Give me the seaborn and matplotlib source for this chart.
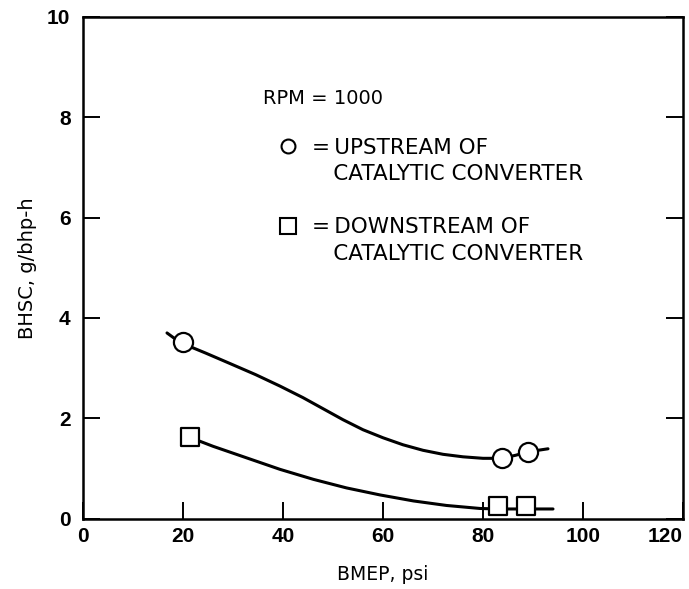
import numpy as np
import pandas as pd
import seaborn as sns
import matplotlib.pyplot as plt
from matplotlib.lines import Line2D

# measured points
up_x = [20, 83.7, 89]
up_y = [3.52, 1.2, 1.33]
down_x = [21.3, 83.0, 88.5]
down_y = [1.62, 0.25, 0.25]

# hand-drawn fair curves
up_curve_x = [16.8, 19.4, 24.5, 29.4, 34.5, 39.4, 44, 48, 52, 56, 60, 64, 68, 72, 76, 80, 83.7, 86.5, 89, 93]
up_curve_y = [3.70, 3.51, 3.30, 3.09, 2.87, 2.64, 2.41, 2.19, 1.97, 1.77, 1.61, 1.47, 1.36, 1.28, 1.23, 1.20, 1.20, 1.26, 1.33, 1.39]
down_curve_x = [21.3, 26, 32.7, 39.4, 46.1, 52.7, 59.4, 66.1, 72.7, 79.4, 83.0, 85.7, 88.5, 94]
down_curve_y = [1.62, 1.44, 1.21, 0.98, 0.78, 0.61, 0.47, 0.35, 0.26, 0.20, 0.19, 0.19, 0.19, 0.19]

x_ticks = [0, 20, 40, 60, 80, 100, 120]
y_ticks = [0, 2, 4, 6, 8, 10]

sns.set_theme(style="ticks", rc={'text.color': 'black', 'axes.labelcolor': 'black',
                                 'xtick.color': 'black', 'ytick.color': 'black',
                                 'axes.edgecolor': 'black'})
plt.rcParams['font.family'] = ['DejaVu Sans']

fig = plt.figure(figsize=(6.89, 5.89), dpi=100)
ax = fig.add_axes([83 / 689, 70.5 / 589, 600 / 689, 501.5 / 589])

curves = pd.concat([
    pd.DataFrame({'x': up_curve_x, 'y': up_curve_y, 'set': 'up'}),
    pd.DataFrame({'x': down_curve_x, 'y': down_curve_y, 'set': 'down'}),
])
sns.lineplot(data=curves, x='x', y='y', units='set', estimator=None, sort=False,
             color='black', lw=2.2, ax=ax, legend=False)

pts_up = pd.DataFrame({'x': up_x, 'y': up_y})
pts_down = pd.DataFrame({'x': down_x, 'y': down_y})
sns.scatterplot(data=pts_up, x='x', y='y', marker='o', s=190, color='white',
                edgecolor='black', linewidth=1.6, ax=ax, zorder=5, legend=False)
sns.scatterplot(data=pts_down, x='x', y='y', marker='s', s=180, color='white',
                edgecolor='black', linewidth=1.6, ax=ax, zorder=5, legend=False)

ax.set_xlim(0, 120)
ax.set_ylim(0, 10)
ax.set_xticks(x_ticks)
ax.set_yticks(y_ticks)
ax.tick_params(direction='in', length=12, width=1.4, right=True, top=False)
ax.tick_params(axis='x', pad=6)
ax.tick_params(axis='y', pad=9)
for lab in ax.get_xticklabels() + ax.get_yticklabels():
    lab.set_fontfamily('Liberation Sans')
    lab.set_fontweight('bold')
    lab.set_fontsize(15)
ax.get_xticklabels()[-1].set_horizontalalignment('right')
for sp in ax.spines.values():
    sp.set_linewidth(1.8)

ax.set_xlabel('BMEP, psi', fontsize=13.5, labelpad=14)
ax.set_ylabel('BHSC, g/bhp-h', fontsize=14, labelpad=7)

ax.text((263 - 83) / 600, (518.5 - 99) / 501.5, 'RPM = 1000', transform=ax.transAxes,
        fontsize=14, va='center', ha='left')

mk = dict(color='white', markeredgecolor='black', markeredgewidth=1.5,
          linestyle='none')
handles = [Line2D([], [], marker='o', markersize=10, **mk),
           Line2D([], [], linestyle='none'),
           Line2D([], [], linestyle='none'),
           Line2D([], [], marker='s', markersize=11, **mk),
           Line2D([], [], linestyle='none')]
thin = '\u2009'
labels = ['=' + thin + 'UPSTREAM OF', thin * 5 + 'CATALYTIC CONVERTER', ' ',
          '=' + thin + 'DOWNSTREAM OF', thin * 5 + 'CATALYTIC CONVERTER']
ax.legend(handles, labels, loc='upper left',
          bbox_to_anchor=((277 - 83) / 600, (518.5 - 138) / 501.5),
          frameon=False, fontsize=15.5, handlelength=1.0, handletextpad=0.62,
          labelspacing=0.3, borderpad=0, borderaxespad=0)

fig.savefig('out.png', dpi=100)
